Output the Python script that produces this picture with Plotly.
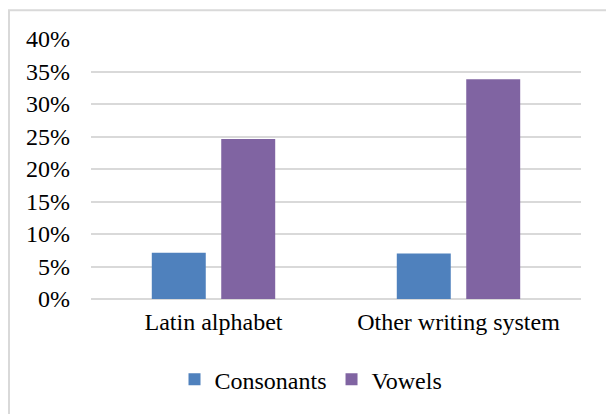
import plotly.graph_objects as go

# Share of errors by writing-system background
categories = ["Latin alphabet", "Other writing system"]
consonants = [0.071, 0.070]
vowels = [0.246, 0.338]
y_ticks = [0, 0.05, 0.10, 0.15, 0.20, 0.25, 0.30, 0.35, 0.40]
y_tick_labels = ["0%", "5%", "10%", "15%", "20%", "25%", "30%", "35%", "40%"]

W, H = 606, 414
L, R, T, B = 91, 25, 39, 113
pw, ph = W - L - R, H - T - B

font = dict(family="Liberation Serif", size=24, color="#000000")

fig = go.Figure()
fig.add_trace(go.Bar(name="Consonants", x=categories, y=consonants,
                     marker=dict(color="#4F81BD", line=dict(width=0))))
fig.add_trace(go.Bar(name="Vowels", x=categories, y=vowels,
                     marker=dict(color="#8064A2", line=dict(width=0))))

# chart-area border (runs past the right and bottom edges)
fig.add_shape(type="rect", xref="paper", yref="paper",
              x0=(9 - L) / pw, x1=(W + 20 - L) / pw,
              y0=(H - B - (H + 20)) / ph, y1=(H - B - 10) / ph,
              line=dict(color="#D9D9D9", width=2), fillcolor="rgba(0,0,0,0)",
              layer="below")

fig.update_layout(
    width=W, height=H,
    margin=dict(l=L, r=R, t=T, b=B),
    paper_bgcolor="white", plot_bgcolor="white",
    font=font,
    barmode="group", bargap=0.433, bargroupgap=0.223,
    showlegend=True,
    legend=dict(orientation="h", x=0.449, xanchor="center", y=-0.31, yanchor="middle",
                font=font, itemwidth=30, traceorder="normal",
                bgcolor="rgba(0,0,0,0)"),
    xaxis=dict(showgrid=False, showline=False, ticks="", tickfont=font,
               ticklabelstandoff=6),
    yaxis=dict(range=[0, 0.40], tickvals=y_ticks, ticktext=y_tick_labels,
               showgrid=True, gridcolor="#D9D9D9", gridwidth=1.5,
               zeroline=True, zerolinecolor="#D9D9D9", zerolinewidth=1.5,
               showline=False, ticks="", tickfont=font, ticklabelstandoff=20),
)

fig.write_html("out.html")
